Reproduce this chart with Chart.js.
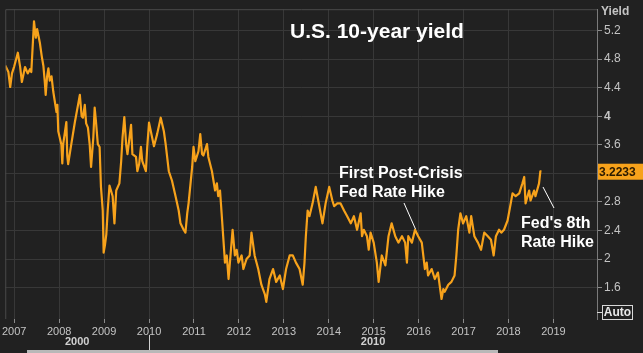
<!DOCTYPE html>
<html>
<head>
<meta charset="utf-8">
<script src="https://cdn.jsdelivr.net/npm/chart.js@4/dist/chart.umd.min.js"></script>
<style>
  html, body { margin: 0; padding: 0; background: #212121; }
  #wrap { width: 643px; height: 353px; }
</style>
</head>
<body>
<div id="wrap"><canvas id="yieldChart" width="643" height="353"></canvas></div>
<script>
// Dữ liệu (năm thập phân, lợi suất %)
const years = [
  2006.80, 2006.87, 2006.91, 2006.95, 2007.00, 2007.08, 2007.13, 2007.17, 2007.24, 2007.30,
  2007.35, 2007.38, 2007.44, 2007.48, 2007.51, 2007.57, 2007.61, 2007.65, 2007.68, 2007.70,
  2007.73, 2007.76, 2007.79, 2007.83, 2007.87, 2007.94, 2007.96, 2007.98, 2008.05, 2008.07,
  2008.09, 2008.16, 2008.18, 2008.20, 2008.27, 2008.35, 2008.42, 2008.46, 2008.50, 2008.53,
  2008.57, 2008.60, 2008.64, 2008.68, 2008.71, 2008.76, 2008.79, 2008.82, 2008.86, 2008.90,
  2008.93, 2008.97, 2008.99,
  2009.02, 2009.05, 2009.08, 2009.12, 2009.19, 2009.23, 2009.27, 2009.34, 2009.38, 2009.41,
  2009.45, 2009.49, 2009.52, 2009.60, 2009.63, 2009.71, 2009.74, 2009.78, 2009.82, 2009.85,
  2009.93, 2009.96, 2010.00, 2010.07, 2010.11, 2010.18, 2010.26, 2010.33, 2010.37, 2010.44,
  2010.51, 2010.59, 2010.66, 2010.70, 2010.77, 2010.81, 2010.85, 2010.88, 2010.96, 2010.99,
  2011.03, 2011.10, 2011.14, 2011.18,
  2011.21, 2011.29, 2011.32, 2011.40, 2011.47, 2011.51, 2011.54, 2011.58, 2011.62, 2011.65,
  2011.69, 2011.73, 2011.77, 2011.80, 2011.86, 2011.91, 2011.95, 2011.99, 2012.06, 2012.10,
  2012.17, 2012.24, 2012.28, 2012.35, 2012.43, 2012.50, 2012.58, 2012.61, 2012.68, 2012.76,
  2012.83, 2012.91, 2012.98, 2013.05, 2013.13, 2013.20, 2013.27, 2013.35,
  2013.42, 2013.46, 2013.49, 2013.53, 2013.57, 2013.64, 2013.71, 2013.79, 2013.86, 2013.93,
  2014.01, 2014.08, 2014.12, 2014.19, 2014.26, 2014.34, 2014.41, 2014.49, 2014.56, 2014.63,
  2014.71, 2014.74, 2014.78, 2014.85, 2014.89, 2014.93, 2015.00, 2015.07, 2015.11, 2015.18,
  2015.26, 2015.33, 2015.40, 2015.48, 2015.55, 2015.63,
  2015.70, 2015.74, 2015.77, 2015.85, 2015.92, 2015.99, 2016.07, 2016.14, 2016.18, 2016.21,
  2016.29, 2016.36, 2016.43, 2016.51, 2016.55, 2016.58, 2016.66, 2016.73, 2016.80, 2016.84,
  2016.88, 2016.93, 2016.99, 2017.06, 2017.13, 2017.17, 2017.24, 2017.32, 2017.39, 2017.46,
  2017.54, 2017.61, 2017.67, 2017.72, 2017.79,
  2017.84, 2017.90, 2017.98, 2018.05, 2018.09, 2018.16, 2018.24, 2018.31, 2018.35, 2018.38,
  2018.46, 2018.49, 2018.57, 2018.60, 2018.68, 2018.71, 2018.73
];
const yields = [
  4.71, 4.62, 4.41, 4.60, 4.70, 4.89, 4.70, 4.48, 4.69, 4.60,
  4.66, 4.62, 5.33, 5.10, 5.22, 5.03, 4.85, 4.70, 4.48, 4.30,
  4.55, 4.67, 4.50, 4.56, 4.34, 4.06, 4.16, 3.79, 3.60, 3.34,
  3.61, 3.92, 3.45, 3.33, 3.61, 3.92, 4.16, 4.30, 4.00, 3.98,
  4.16, 3.90, 3.84, 3.60, 3.29, 3.70, 4.12, 3.92, 3.61, 3.57,
  3.01, 2.68, 2.09,
  2.20, 2.35, 2.68, 3.03, 2.88, 2.50, 2.96, 3.06, 3.37, 3.70,
  3.99, 3.61, 3.47, 3.88, 3.47, 3.43, 3.23, 3.33, 3.57, 3.37,
  3.23, 3.57, 3.91, 3.70, 3.58, 3.75, 3.98, 3.79, 3.61, 3.23,
  3.10, 2.88, 2.68, 2.50, 2.41, 2.37, 2.64, 2.78, 3.29, 3.57,
  3.37, 3.51, 3.75, 3.47,
  3.45, 3.61, 3.43, 3.23, 2.96, 3.06, 2.88, 2.96, 2.60, 2.32,
  1.95, 2.05, 1.72, 1.95, 2.41, 2.05, 2.13, 1.95, 2.05, 1.86,
  2.00, 2.05, 2.37, 2.05, 1.86, 1.64, 1.50, 1.40, 1.72, 1.86,
  1.68, 1.77, 1.58, 1.86, 2.05, 2.05, 1.95, 1.86,
  1.64, 1.95, 2.32, 2.68, 2.60, 2.78, 3.01, 2.74, 2.50, 2.78,
  3.01, 2.82, 2.74, 2.78, 2.78, 2.68, 2.60, 2.50, 2.60, 2.41,
  2.64, 2.32, 2.41, 2.32, 2.13, 2.37, 2.23, 1.95, 1.68, 2.05,
  1.91, 2.32, 2.50, 2.32, 2.23, 2.32,
  2.23, 1.95, 2.32, 2.23, 2.41, 2.32, 2.23, 1.86, 1.95, 1.77,
  1.86, 1.72, 1.81, 1.44, 1.58, 1.54, 1.64, 1.68, 1.77, 2.05,
  2.41, 2.64, 2.50, 2.60, 2.37, 2.60, 2.32, 2.23, 2.13, 2.37,
  2.32, 2.27, 2.05, 2.32, 2.41,
  2.37, 2.41, 2.54, 2.78, 2.92, 2.88, 2.92, 3.06, 3.15, 2.78,
  2.96, 2.82, 2.96, 2.88, 3.06, 3.23, 3.2233
];
const yearTicks = [2007, 2008, 2009, 2010, 2011, 2012, 2013, 2014, 2015, 2016, 2017, 2018, 2019];
const yieldTicks = [1.6, 2, 2.4, 2.8, 3.2, 3.6, 4, 4.4, 4.8, 5.2];
const decadeLabels = ['2000', '2010'];
const lastYield = 3.2233;

const LINE_COLOR = '#f7a21b';
const GRID_COLOR = '#383838';
const TEXT_COLOR = '#c4c4c4';

// Vẽ phần trang trí: tiêu đề, chú thích, nhãn giá cuối, hộp Auto...
const decorPlugin = {
  id: 'decor',
  afterDraw(chart) {
    const ctx = chart.ctx;
    const area = chart.chartArea;
    const xs = chart.scales.x;
    const ys = chart.scales.y;
    ctx.save();

    // khung vùng vẽ
    ctx.strokeStyle = '#4a4a4a';
    ctx.lineWidth = 1;
    ctx.beginPath();
    ctx.moveTo(area.left + 0.5, area.bottom);
    ctx.lineTo(area.left + 0.5, area.top + 0.5);
    ctx.lineTo(area.right, area.top + 0.5);
    ctx.stroke();

    // tiêu đề
    ctx.fillStyle = '#ffffff';
    ctx.font = 'bold 21px "Liberation Sans", Arial, sans-serif';
    ctx.textAlign = 'left';
    ctx.textBaseline = 'alphabetic';
    ctx.fillText('U.S. 10-year yield', 290, 38);

    // chú thích
    ctx.font = 'bold 16px "Liberation Sans", Arial, sans-serif';
    ctx.fillText('First Post-Crisis', 339, 178);
    ctx.fillText('Fed Rate Hike', 339, 197);
    ctx.fillText("Fed's 8th", 521, 228);
    ctx.fillText('Rate Hike', 521, 247);

    ctx.strokeStyle = '#ffffff';
    ctx.lineWidth = 1;
    ctx.beginPath();
    ctx.moveTo(404, 203);
    ctx.lineTo(xs.getPixelForValue(2015.93), ys.getPixelForValue(2.42));
    ctx.moveTo(543, 187);
    ctx.lineTo(554, 208);
    ctx.stroke();

    // nhãn "Yield"
    ctx.fillStyle = TEXT_COLOR;
    ctx.font = 'bold 12px "Liberation Sans", Arial, sans-serif';
    ctx.fillText('Yield', 601, 15);

    // nhãn giá cuối
    const py = ys.getPixelForValue(lastYield);
    ctx.fillStyle = LINE_COLOR;
    ctx.fillRect(area.right + 1, py - 8, 46, 16);
    ctx.fillStyle = '#2a1a00';
    ctx.font = 'bold 12px "Liberation Sans", Arial, sans-serif';
    ctx.textBaseline = 'middle';
    ctx.fillText(lastYield.toFixed(4), area.right + 2, py + 1);

    // hộp Auto
    ctx.strokeStyle = '#d8d8d8';
    ctx.strokeRect(602.5, 305.5, 30, 14);
    ctx.beginPath();
    ctx.moveTo(area.right, 312.5);
    ctx.lineTo(602, 312.5);
    ctx.stroke();
    ctx.fillStyle = '#e8e8e8';
    ctx.font = 'bold 12px "Liberation Sans", Arial, sans-serif';
    ctx.textAlign = 'center';
    ctx.fillText('Auto', 617.5, 313);

    // hàng thập kỷ bên dưới trục x
    const x2010 = xs.getPixelForValue(2010);
    ctx.fillStyle = '#d0d0d0';
    ctx.font = 'bold 11px "Liberation Sans", Arial, sans-serif';
    ctx.fillText(decadeLabels[0], (area.left + x2010) / 2, 342);
    ctx.fillText(decadeLabels[1], (x2010 + area.right) / 2, 342);
    ctx.strokeStyle = '#d0d0d0';
    ctx.beginPath();
    ctx.moveTo(Math.round(x2010) + 0.5, 335);
    ctx.lineTo(Math.round(x2010) + 0.5, 353);
    ctx.stroke();

    // thanh cuộn
    ctx.fillStyle = '#b8b8b8';
    ctx.fillRect(27, 350, 471, 3);

    ctx.restore();
  }
};

const bgPlugin = {
  id: 'bg',
  beforeDraw(chart) {
    const ctx = chart.ctx;
    ctx.save();
    ctx.fillStyle = '#212121';
    ctx.fillRect(0, 0, chart.width, chart.height);
    ctx.restore();
  }
};

const ctx = document.getElementById('yieldChart').getContext('2d');
new Chart(ctx, {
  type: 'line',
  data: {
    datasets: [{
      data: years.map((y, i) => ({ x: y, y: yields[i] })),
      borderColor: LINE_COLOR,
      borderWidth: 2.2,
      borderJoinStyle: 'round',
      pointRadius: 0,
      tension: 0,
      fill: false
    }]
  },
  options: {
    responsive: false,
    animation: false,
    layout: { padding: { top: 3, left: 0, right: 0, bottom: 0 } },
    plugins: {
      legend: { display: false },
      tooltip: { enabled: false }
    },
    scales: {
      x: {
        type: 'linear',
        min: 2006.8,
        max: 2019.97,
        afterBuildTicks: s => { s.ticks = yearTicks.map(v => ({ value: v })); },
        afterFit: s => { s.height = 34; },
        grid: { color: GRID_COLOR, tickColor: '#8a8a8a', tickLength: 4 },
        border: { display: false },
        ticks: {
          color: TEXT_COLOR,
          font: { family: '"Liberation Sans", Arial, sans-serif', size: 11 },
          padding: 2,
          maxRotation: 0,
          autoSkip: false,
          callback: v => String(v)
        }
      },
      y: {
        type: 'linear',
        position: 'right',
        min: 1.16,
        max: 5.5,
        afterBuildTicks: s => { s.ticks = yieldTicks.map(v => ({ value: v })); },
        afterFit: s => { s.width = 46; },
        grid: { color: GRID_COLOR, tickColor: '#8a8a8a', tickLength: 5 },
        border: { display: true, color: '#7a7a7a' },
        ticks: {
          color: TEXT_COLOR,
          font: ctx => ({
            family: '"Liberation Sans", Arial, sans-serif',
            size: 12,
            weight: ctx.tick && ctx.tick.value === 4 ? 'bold' : 'normal'
          }),
          padding: 2,
          callback: v => (v === 3.2 ? '' : String(v))
        }
      }
    }
  },
  plugins: [bgPlugin, decorPlugin]
});
</script>
</body>
</html>
